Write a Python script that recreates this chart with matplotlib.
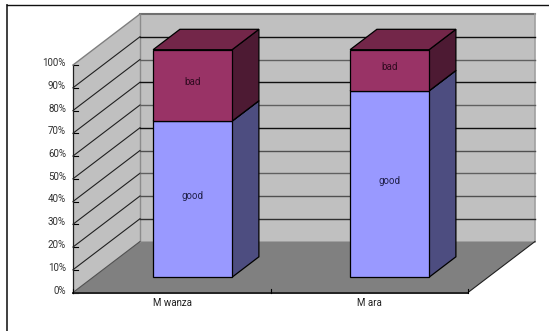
import matplotlib
matplotlib.use('Agg')
import matplotlib.pyplot as plt
from matplotlib.patches import Polygon

# Share of each rating per region, in percent
regions = ['M wanza', 'M ara']
good = [68.6, 81.9]
bad = [31.4, 18.1]
tick_pcts = [0, 10, 20, 30, 40, 50, 60, 70, 80, 90, 100]

# Colours of the stacked segments: front, side, top
GOOD_COLORS = ('#9999ff', '#4d4d80', '#6b6bb0')
BAD_COLORS = ('#993366', '#4d1a33', '#732649')
WALL = '#c0c0c0'
FLOOR = '#808080'
EDGE = '#7f7f7f'

# Box layout in figure pixels
X0, X1 = 73.0, 468.0       # front edge of the floor
Y0, Y100 = 292.5, 65.0     # front left edge, 0% and 100%
DX, DY = 67.0, -51.0       # full depth offset
BAR_LEFT = [133.0, 330.0]
BAR_W = 79.0
BAR_DEPTH = (0.30, 0.70)   # where the bars sit inside the box depth

# back wall gridline colours, alternating like the old raster export
GRID_BACK = {10: '#303030', 20: '#505050', 30: '#606060', 40: '#505050', 50: '#101010',
             60: '#606060', 70: '#101010', 80: '#606060', 90: '#101010'}

plt.rcParams['font.family'] = ['Roboto', 'DejaVu Sans']


def proj(x, pct, depth=0.0):
    y = Y0 + (Y100 - Y0) * pct / 100.0
    return (x + DX * depth, y + DY * depth)


def quad(ax, pts, face, edge='black', lw=0.9, z=3):
    ax.add_patch(Polygon(pts, closed=True, facecolor=face, edgecolor=edge,
                         linewidth=lw, joinstyle='miter', zorder=z))


def draw_segment(ax, left, bottom, top, colors, z):
    right = left + BAR_W
    d0, d1 = BAR_DEPTH
    # side, top then front
    quad(ax, [proj(right, bottom, d0), proj(right, bottom, d1),
              proj(right, top, d1), proj(right, top, d0)], colors[1], z=z)
    quad(ax, [proj(left, top, d0), proj(right, top, d0),
              proj(right, top, d1), proj(left, top, d1)], colors[2], z=z)
    quad(ax, [proj(left, bottom, d0), proj(right, bottom, d0),
              proj(right, top, d0), proj(left, top, d0)], colors[0], z=z + 0.5)


fig = plt.figure(figsize=(5.49, 3.31), dpi=100)
ax = fig.add_axes([0, 0, 1, 1])
ax.set_xlim(0, 549)
ax.set_ylim(331, 0)
ax.axis('off')

# Outer chart frame, runs off the right and bottom
ax.plot([7, 7], [331, 5], color='#303030', lw=1.3, zorder=1)
ax.plot([7, 549], [5, 5], color='#101010', lw=1.0, zorder=1)

# Side wall, back wall, floor
quad(ax, [proj(X0, 0), proj(X0, 0, 1), proj(X0, 100, 1), proj(X0, 100)], WALL, 'none', 0, 1)
quad(ax, [proj(X0, 0, 1), proj(X1, 0, 1), proj(X1, 100, 1), proj(X0, 100, 1)], WALL, 'none', 0, 1)
quad(ax, [proj(X0, 0), proj(X1, 0), proj(X1, 0, 1), proj(X0, 0, 1)], FLOOR, 'none', 0, 1.5)

# Back wall outline
ax.plot(*zip(proj(X0, 100, 1), proj(X1, 100, 1)), color='#707070', lw=1.5, zorder=2)
ax.plot(*zip(proj(X1, 100, 1), proj(X1, 0, 1)), color='#a0a0a0', lw=1.2, zorder=2)
ax.plot(*zip(proj(X0, 100, 1), proj(X0, 0, 1)), color='#8c8c8c', lw=1.0, zorder=2)

# Gridlines across both walls, with tick labels on the front edge
for pct in tick_pcts:
    if pct not in (0, 100):
        ax.plot(*zip(proj(X0, pct), proj(X0, pct, 1)), color='#202020', lw=0.8, zorder=2)
        ax.plot(*zip(proj(X0, pct, 1), proj(X1, pct, 1)), color=GRID_BACK[pct],
                lw=1.0, zorder=2)
    tx, ty = proj(X0, pct)
    ax.plot([tx, tx + 5], [ty, ty], color='black', lw=0.8, zorder=2)
    ax.text(tx - 7, ty - 2, f'{pct}%', ha='right', va='center', fontsize=7, color='#303030')

# Axis lines and floor edge
ax.plot(*zip(proj(X0, 0), proj(X0, 100)), color='#202020', lw=0.9, zorder=2)
ax.plot(*zip(proj(X0, 100), proj(X0, 100, 1)), color=EDGE, lw=1.0, zorder=2)
ax.plot(*zip(proj(X0, 0), proj(X1, 0)), color='#202020', lw=1.4, zorder=2)
ax.plot(*zip(proj(X1, 0), proj(X1, 0, 1)), color='#202020', lw=0.8, zorder=2)
ax.plot(*zip(proj(X0, 0), proj(X0, 0, 1)), color='#505050', lw=0.8, zorder=2)
for x in (X0, (X0 + X1) / 2, X1):
    ax.plot([x, x], [Y0 - 4, Y0], color='black', lw=0.8, zorder=2)

# Stacked bars
for i, name in enumerate(regions):
    left = BAR_LEFT[i]
    d0 = BAR_DEPTH[0]
    draw_segment(ax, left, 0, good[i], GOOD_COLORS, 3)
    draw_segment(ax, left, good[i], good[i] + bad[i], BAD_COLORS, 4)
    cx, gy = proj(left + BAR_W / 2, good[i] / 2, d0)
    _, by = proj(left, good[i] + bad[i] / 2, d0)
    ax.text(cx, gy - 3, 'good', ha='center', va='center', fontsize=7, color='#20204a', zorder=6)
    ax.text(cx, by - 3, 'bad', ha='center', va='center', fontsize=7, color='#300a20', zorder=6)
    lx = X0 + (X1 - X0) * (i + 0.5) / len(regions)
    ax.text(lx + 0.5, Y0 + 10.5, name, ha='center', va='center', fontsize=7, color='#202020')

fig.savefig('out.png', dpi=100, facecolor='white')
